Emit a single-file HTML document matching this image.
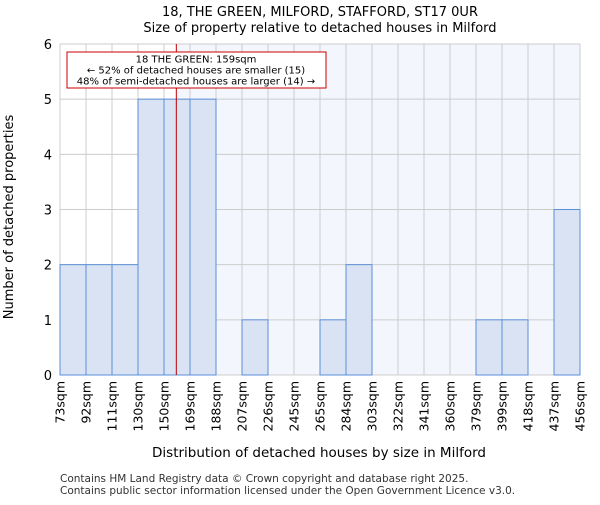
<!DOCTYPE html>
<html><head><meta charset="utf-8"><style>body{margin:0;background:#fff}svg{font-family:"DejaVu Sans","Liberation Sans",sans-serif}</style></head>
<body>
<svg id="chart" width="600" height="500">
<text x="320" y="16" text-anchor="middle" font-size="13">18, THE GREEN, MILFORD, STAFFORD, ST17 0UR</text>
<text x="320" y="32" text-anchor="middle" font-size="13">Size of property relative to detached houses in Milford</text>
<g id="plot"></g>
<text x="319" y="457" text-anchor="middle" font-size="13.5">Distribution of detached houses by size in Milford</text>
<text transform="translate(13,217) rotate(-90)" text-anchor="middle" font-size="13">Number of detached properties</text>
<text x="60" y="482" font-size="10.5" fill="#333">Contains HM Land Registry data © Crown copyright and database right 2025.</text>
<text x="60" y="494" font-size="10.5" fill="#333">Contains public sector information licensed under the Open Government Licence v3.0.</text>
</svg>
<script>
const binLabels=["73sqm","92sqm","111sqm","130sqm","150sqm","169sqm","188sqm","207sqm","226sqm","245sqm","265sqm","284sqm","303sqm","322sqm","341sqm","360sqm","379sqm","399sqm","418sqm","437sqm","456sqm"];
const binEdges=[73,92,111,130,150,169,188,207,226,245,265,284,303,322,341,360,379,399,418,437,456];
const counts=[2,2,2,5,5,5,0,1,0,0,1,2,0,0,0,0,1,1,0,3];
const yTicks=[0,1,2,3,4,5,6];
const propertySize=159;
const NS="http://www.w3.org/2000/svg";
const L=60,R=580,T=44,B=375,n=counts.length,bw=(R-L)/n;
const xi=i=>L+i*bw;
const y=v=>B-(B-T)*v/6;
const xs=v=>{for(let i=0;i<binEdges.length-1;i++){if(v<=binEdges[i+1])return xi(i)+bw*(v-binEdges[i])/(binEdges[i+1]-binEdges[i]);}return R;};
const g=document.getElementById('plot');
function mk(t,a){const e=document.createElementNS(NS,t);for(const k in a)e.setAttribute(k,a[k]);g.appendChild(e);return e;}
const px=xs(propertySize);
let e=mk('rect',{x:px,y:T,width:R-px,height:B-T,fill:'#f3f6fd'});


for(let i=0;i<=n;i++){e=mk('line',{x1:xi(i),x2:xi(i),y1:T,y2:B,stroke:'#ccc','stroke-width':1});

}
yTicks.forEach(v=>{e=mk('line',{x1:L,x2:R,y1:y(v),y2:y(v),stroke:'#ccc','stroke-width':1});


e=mk('text',{x:L-8,y:y(v)+5,'text-anchor':'end','font-size':13});e.textContent=v;

});
counts.forEach((c,i)=>{if(c>0){e=mk('rect',{x:xi(i),y:y(c),width:bw,height:B-y(c),fill:'#dae3f3',stroke:'#5b8fd8','stroke-width':1});

}});
binLabels.forEach((l,i)=>{const x=xi(i)+4.5;e=mk('text',{transform:`translate(${x},381) rotate(-90)`,'text-anchor':'end','font-size':12.5});e.textContent=l;

});
e=mk('line',{x1:px,x2:px,y1:T,y2:B,stroke:'#b00','stroke-width':1});


e=mk('rect',{x:67,y:52,width:259,height:36,fill:'#fff',stroke:'#c00','stroke-width':1});


["18 THE GREEN: 159sqm","← 52% of detached houses are smaller (15)","48% of semi-detached houses are larger (14) →"].forEach((t,k)=>{e=mk('text',{x:196,y:62.5+k*11,'text-anchor':'middle','font-size':10});e.textContent=t;

});
</script>
</body></html>
